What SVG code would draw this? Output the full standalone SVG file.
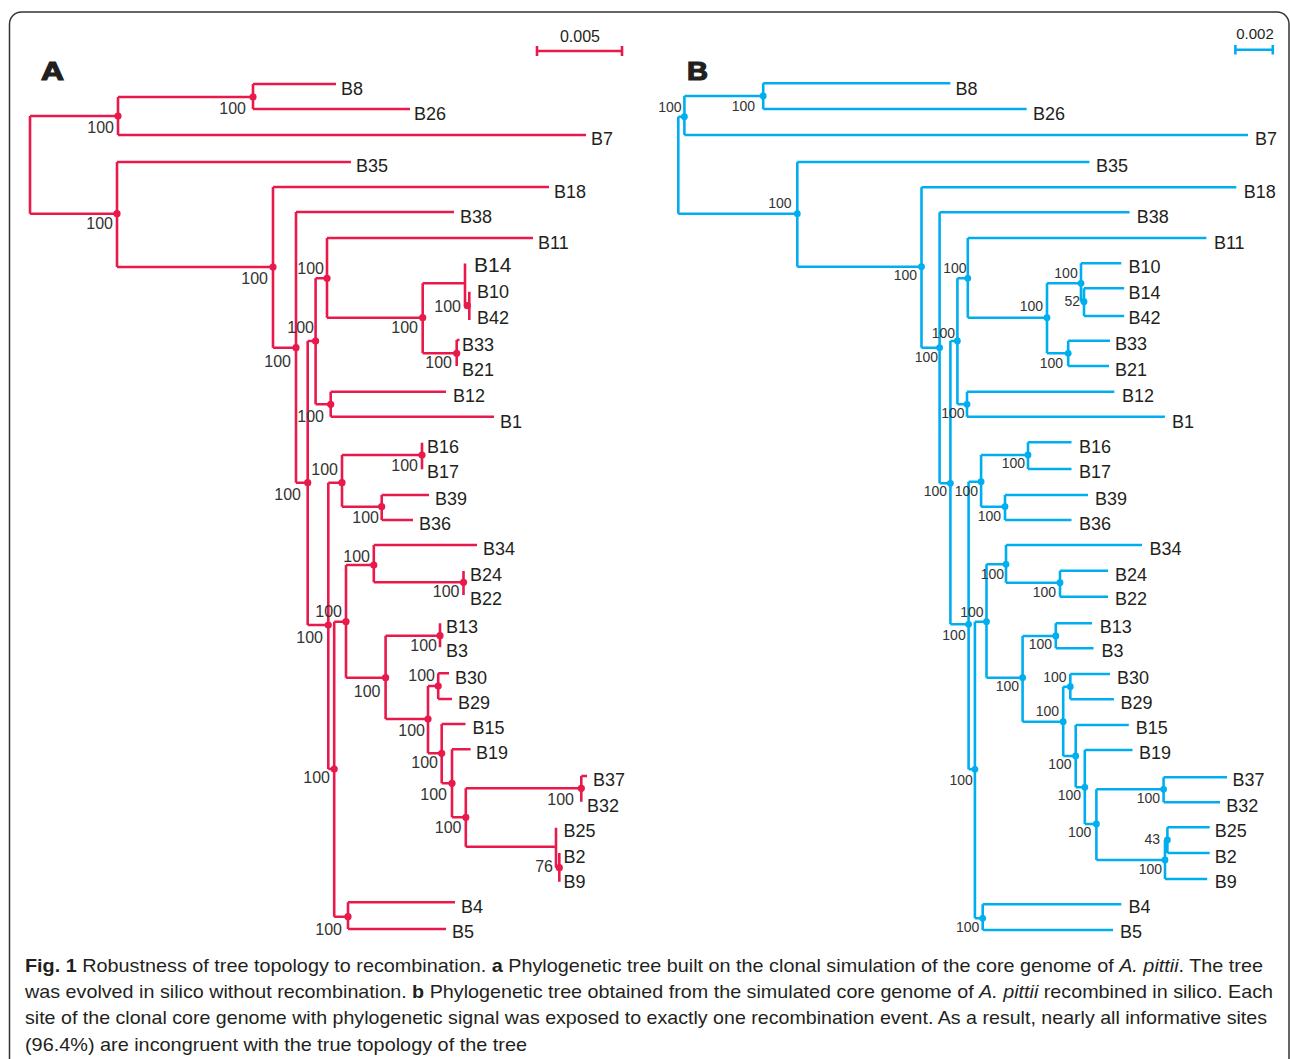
<svg xmlns="http://www.w3.org/2000/svg" width="1290" height="1059" viewBox="0 0 1290 1059">
<style>
text{font-family:"Liberation Sans",Arial,sans-serif;fill:#231f20}
.ca{fill:none;stroke:#e8194b;stroke-width:2.6;stroke-linecap:butt}
.cb{fill:none;stroke:#00aeef;stroke-width:2.6;stroke-linecap:butt}
.da{fill:#e8194b}
.db{fill:#00aeef}
.t{font-size:18px}
.sa{font-size:16px;fill:#333;text-anchor:end}
.sb{font-size:14px;fill:#333;text-anchor:end}
.pl{font-size:25px;font-weight:bold;stroke:#231f20;stroke-width:1.2}
.cap{font-size:19px}
</style>
<rect width="1290" height="1059" fill="#fff"/>
<path d="M9.5 1060 V24 A12 12 0 0 1 21.5 12 H1277 A12 12 0 0 1 1289 24 V1060" fill="none" stroke="#333" stroke-width="1.5"/>

<text class="pl" x="41" y="80" textLength="23" lengthAdjust="spacingAndGlyphs">A</text>
<text class="pl" x="687" y="80" textLength="21" lengthAdjust="spacingAndGlyphs">B</text>

<g id="scale-a">
<path class="ca" stroke-width="2" d="M537 46 V56 M537 51 H622 M622 46 V56"/>
<text x="580" y="42" font-size="16" text-anchor="middle">0.005</text>
</g>
<g id="scale-b">
<path class="cb" stroke-width="2" d="M1235.4 45 V54.5 M1235.4 49.7 H1272.8 M1272.8 45 V54.5"/>
<text x="1255" y="38.5" font-size="15" text-anchor="middle">0.002</text>
</g>

<g id="connectors-a" class="ca">
<path d="M30 116 V213.7 M30 116 H118 M118 97 V135 M118 97 H253 M253 84 V109 M253 84 H336 M253 109 H410 M118 135 H586"/>
<path d="M30 213.7 H117 M117 162 V267 M117 162 H351 M117 267 H273 M273 187 V347.7 M273 187 H549 M273 347.7 H296 M296 212 V482.7 M296 212 H454"/>
<path d="M296 482.7 H307.7 M307.7 341 V625 M307.7 341 H315.6 M315.6 278.3 V404.3 M315.6 278.3 H327 M327 238 V317.7 M327 238 H533"/>
<path d="M327 317.7 H422.7 M422.7 283.3 V353.3 M422.7 283.3 H465 M465 263.5 V305.7 M465 305.7 H469.3 M469.3 291.7 V320 M422.7 353.3 H456.7 M456.7 340 V366 M456.7 340 H459.5"/>
<path d="M315.6 404.3 H330.7 M330.7 391.7 V416.7 M330.7 391.7 H446 M330.7 416.7 H494"/>
<path d="M307.7 625 H328.3 M328.3 482.7 V769 M328.3 482.7 H342 M342 455 V506.7 M342 455 H422 M422 442.7 V469.3 M342 506.7 H381.7 M381.7 495 V520 M381.7 495 H429 M381.7 520 H413"/>
<path d="M328.3 769 H334.2 M334.2 621.7 V916.7 M334.2 621.7 H346 M346 565 V677.7 M346 565 H373.8 M373.8 545 V582.3 M373.8 545 H477 M373.8 582.3 H463.5 M463.5 571 V595"/>
<path d="M346 677.7 H385.6 M385.6 635.7 V719 M385.6 635.7 H440 M440 623.3 V647.3 M385.6 719 H428 M428 686 V753.3 M428 686 H438.2 M438.2 673.3 V699 M438.2 673.3 H449 M438.2 699 H452"/>
<path d="M428 753.3 H441.7 M441.7 724 V783.3 M441.7 724 H465.5 M441.7 783.3 H452 M452 749.3 V817.3 M452 749.3 H470.6 M452 817.3 H465.8 M465.8 788.3 V846.7"/>
<path d="M465.8 788.3 H581.3 M581.3 776 V801.7 M581.3 776 H587 M465.8 846.7 H556 M556 827.7 V867.7 M556 867.7 H559.3 M559.3 853 V881.7"/>
<path d="M334.2 916.7 H348 M348 902.3 V929 M348 902.3 H455 M348 929 H446"/>
</g>

<g id="tree-a-nodes">
<g id="a-n-b8b26"><circle class="da" cx="253" cy="97" r="3.6"/><text class="sa" x="246" y="114">100</text></g>
<g id="a-n-top"><circle class="da" cx="118" cy="116" r="3.6"/><text class="sa" x="114" y="133">100</text></g>
<g id="a-n-35"><circle class="da" cx="117" cy="213.7" r="3.6"/><text class="sa" x="113" y="229">100</text></g>
<g id="a-n-18"><circle class="da" cx="273" cy="267" r="3.6"/><text class="sa" x="268" y="284">100</text></g>
<g id="a-n-38"><circle class="da" cx="296" cy="347.7" r="3.6"/><text class="sa" x="291" y="367">100</text></g>
<g id="a-n-a"><circle class="da" cx="307.7" cy="482.7" r="3.6"/><text class="sa" x="301" y="500">100</text></g>
<g id="a-n-b"><circle class="da" cx="315.6" cy="341" r="3.6"/><text class="sa" x="314" y="333">100</text></g>
<g id="a-n-11"><circle class="da" cx="327" cy="278.3" r="3.6"/><text class="sa" x="324" y="274">100</text></g>
<g id="a-n-c"><circle class="da" cx="422.7" cy="317.7" r="3.6"/><text class="sa" x="418" y="333">100</text></g>
<g id="a-n-10-42"><circle class="da" cx="467.3" cy="305.7" r="3.6"/><text class="sa" x="461" y="312">100</text></g>
<g id="a-n-33-21"><circle class="da" cx="456.7" cy="353.3" r="3.6"/><text class="sa" x="452" y="368">100</text></g>
<g id="a-n-12-1"><circle class="da" cx="330.7" cy="404.3" r="3.6"/><text class="sa" x="324" y="422">100</text></g>
<g id="a-n-d"><circle class="da" cx="328.3" cy="625" r="3.6"/><text class="sa" x="323" y="643">100</text></g>
<g id="a-n-e"><circle class="da" cx="342" cy="482.7" r="3.6"/><text class="sa" x="338" y="475">100</text></g>
<g id="a-n-16-17"><circle class="da" cx="422" cy="455" r="3.6"/><text class="sa" x="418" y="470.7">100</text></g>
<g id="a-n-39-36"><circle class="da" cx="381.7" cy="506.7" r="3.6"/><text class="sa" x="379" y="522.7">100</text></g>
<g id="a-n-f"><circle class="da" cx="334.2" cy="769" r="3.6"/><text class="sa" x="330" y="783">100</text></g>
<g id="a-n-g"><circle class="da" cx="346" cy="621.7" r="3.6"/><text class="sa" x="342" y="617">100</text></g>
<g id="a-n-h"><circle class="da" cx="373.8" cy="565" r="3.6"/><text class="sa" x="370" y="561.7">100</text></g>
<g id="a-n-24-22"><circle class="da" cx="463.5" cy="582.3" r="3.6"/><text class="sa" x="459.5" y="597.3">100</text></g>
<g id="a-n-i"><circle class="da" cx="385.6" cy="677.7" r="3.6"/><text class="sa" x="380.5" y="696.7">100</text></g>
<g id="a-n-13-3"><circle class="da" cx="440" cy="635.7" r="3.6"/><text class="sa" x="437" y="650.7">100</text></g>
<g id="a-n-j"><circle class="da" cx="428" cy="719" r="3.6"/><text class="sa" x="425" y="736">100</text></g>
<g id="a-n-30-29"><circle class="da" cx="438.2" cy="686" r="3.6"/><text class="sa" x="435" y="680.7">100</text></g>
<g id="a-n-k"><circle class="da" cx="441.7" cy="753.3" r="3.6"/><text class="sa" x="438" y="768.3">100</text></g>
<g id="a-n-l"><circle class="da" cx="452" cy="783.3" r="3.6"/><text class="sa" x="447" y="800">100</text></g>
<g id="a-n-m"><circle class="da" cx="465.8" cy="817.3" r="3.6"/><text class="sa" x="461.5" y="833.3">100</text></g>
<g id="a-n-37-32"><circle class="da" cx="581.3" cy="788.3" r="3.6"/><text class="sa" x="574" y="805">100</text></g>
<g id="a-n-2-9"><circle class="da" cx="559.3" cy="867.7" r="3.6"/><text class="sa" x="553" y="872">76</text></g>
<g id="a-n-4-5"><circle class="da" cx="348" cy="916.7" r="3.6"/><text class="sa" x="342" y="935">100</text></g>
</g>

<g id="tree-a-tips" transform="translate(0,1.2)">
<g id="a-B8"><text class="t" x="341" y="94">B8</text></g>
<g id="a-B26"><text class="t" x="414" y="119">B26</text></g>
<g id="a-B7"><text class="t" x="591" y="144">B7</text></g>
<g id="a-B35"><text class="t" x="356" y="171">B35</text></g>
<g id="a-B18"><text class="t" x="554" y="197">B18</text></g>
<g id="a-B38"><text class="t" x="460" y="222">B38</text></g>
<g id="a-B11"><text class="t" x="538" y="248">B11</text></g>
<g id="a-B14"><text x="474" y="271" font-size="21">B14</text></g>
<g id="a-B10"><text class="t" x="477" y="297">B10</text></g>
<g id="a-B42"><text class="t" x="477" y="322.5">B42</text></g>
<g id="a-B33"><text class="t" x="462" y="350">B33</text></g>
<g id="a-B21"><text class="t" x="462" y="375">B21</text></g>
<g id="a-B12"><text class="t" x="453" y="401">B12</text></g>
<g id="a-B1"><text class="t" x="500" y="427">B1</text></g>
<g id="a-B16"><text class="t" x="427" y="451.7">B16</text></g>
<g id="a-B17"><text class="t" x="427" y="477">B17</text></g>
<g id="a-B39"><text class="t" x="435" y="504">B39</text></g>
<g id="a-B36"><text class="t" x="419" y="529.3">B36</text></g>
<g id="a-B34"><text class="t" x="483" y="554">B34</text></g>
<g id="a-B24"><text class="t" x="470" y="580">B24</text></g>
<g id="a-B22"><text class="t" x="470" y="604">B22</text></g>
<g id="a-B13"><text class="t" x="446" y="632">B13</text></g>
<g id="a-B3"><text class="t" x="446" y="656">B3</text></g>
<g id="a-B30"><text class="t" x="455" y="683">B30</text></g>
<g id="a-B29"><text class="t" x="458" y="708">B29</text></g>
<g id="a-B15"><text class="t" x="472.6" y="733">B15</text></g>
<g id="a-B19"><text class="t" x="476" y="758.3">B19</text></g>
<g id="a-B37"><text class="t" x="593" y="785">B37</text></g>
<g id="a-B32"><text class="t" x="587" y="810.7">B32</text></g>
<g id="a-B25"><text class="t" x="563.5" y="836">B25</text></g>
<g id="a-B2"><text class="t" x="563.5" y="861.7">B2</text></g>
<g id="a-B9"><text class="t" x="563.5" y="886.7">B9</text></g>
<g id="a-B4"><text class="t" x="461" y="911.7">B4</text></g>
<g id="a-B5"><text class="t" x="452" y="937.3">B5</text></g>
</g>

<g id="connectors-b" class="cb">
<path d="M678.3 116.7 V213.7 M678.3 116.7 H684.4 M684.4 96 V135 M684.4 96 H763.2 M763.2 83.3 V109 M763.2 83.3 H950.4 M763.2 109 H1026.7 M684.4 135 H1248"/>
<path d="M678.3 213.7 H797.3 M797.3 162 V266.7 M797.3 162 H1089.4 M797.3 266.7 H921.5 M921.5 187.3 V347.7 M921.5 187.3 H1236.3 M921.5 347.7 H939.6 M939.6 212.3 V483.3 M939.6 212.3 H1129.6"/>
<path d="M939.6 483.3 H950.4 M950.4 341 V624.3 M950.4 341 H957.4 M957.4 278.3 V404.3 M957.4 278.3 H967.8 M967.8 238 V317.7 M967.8 238 H1206.4"/>
<path d="M967.8 317.7 H1047 M1047 283.3 V353.3 M1047 283.3 H1081 M1081 263.3 V301.7 M1081 263.3 H1121.3 M1081 301.7 H1084 M1084 288.3 V316 M1084 288.3 H1124.2 M1084 316 H1124.2 M1047 353.3 H1068.2 M1068.2 340.7 V366 M1068.2 340.7 H1110 M1068.2 366 H1109"/>
<path d="M957.4 404.3 H967 M967 391.7 V416.7 M967 391.7 H1114.3 M967 416.7 H1164.9"/>
<path d="M950.4 624.3 H968.6 M968.6 481.7 V769.3 M968.6 481.7 H981.1 M981.1 455 V506.7 M981.1 455 H1028 M1028 442.3 V469 M1028 442.3 H1071.5 M1028 469 H1071.5 M981.1 506.7 H1005 M1005 495 V520 M1005 495 H1088 M1005 520 H1071.5"/>
<path d="M968.6 769.3 H974.9 M974.9 621.7 V918.3 M974.9 621.7 H986.5 M986.5 564.3 V677.7 M986.5 564.3 H1006 M1006 545 V582.7 M1006 545 H1142 M1006 582.7 H1060 M1060 570.7 V596.7 M1060 570.7 H1108 M1060 596.7 H1108"/>
<path d="M986.5 677.7 H1022.6 M1022.6 636 V721.7 M1022.6 636 H1055.8 M1055.8 623.3 V648.3 M1055.8 623.3 H1092 M1055.8 648.3 H1093.5 M1022.6 721.7 H1063.2 M1063.2 686.7 V756 M1063.2 686.7 H1070.3 M1070.3 674 V699.3 M1070.3 674 H1110 M1070.3 699.3 H1113.9"/>
<path d="M1063.2 756 H1075.7 M1075.7 725 V787.3 M1075.7 725 H1128.8 M1075.7 787.3 H1084.8 M1084.8 750 V824 M1084.8 750 H1132.5 M1084.8 824 H1096.4 M1096.4 789.3 V860"/>
<path d="M1096.4 789.3 H1163.6 M1163.6 777.3 V802.3 M1163.6 777.3 H1227 M1163.6 802.3 H1220 M1096.4 860 H1165 M1165 840 V879 M1165 879 H1207.2 M1165 840 H1167.4 M1167.4 827.3 V853 M1167.4 827.3 H1209.7 M1167.4 853 H1209.7"/>
<path d="M974.9 918.3 H982.7 M982.7 904.3 V930 M982.7 904.3 H1121.3 M982.7 930 H1113"/>
</g>

<g id="tree-b-nodes">
<g id="b-n-8-26"><circle class="db" cx="763.2" cy="96" r="3.4"/><text class="sb" x="755" y="110.7">100</text></g>
<g id="b-n-top"><circle class="db" cx="684.4" cy="116.7" r="3.4"/><text class="sb" x="681.5" y="112.3">100</text></g>
<g id="b-n-35"><circle class="db" cx="797.3" cy="213.7" r="3.4"/><text class="sb" x="791.5" y="208.3">100</text></g>
<g id="b-n-18"><circle class="db" cx="921.5" cy="266.7" r="3.4"/><text class="sb" x="917" y="280">100</text></g>
<g id="b-n-38"><circle class="db" cx="939.6" cy="347.7" r="3.4"/><text class="sb" x="938" y="361.7">100</text></g>
<g id="b-n-a"><circle class="db" cx="950.4" cy="483.3" r="3.4"/><text class="sb" x="947" y="496">100</text></g>
<g id="b-n-b"><circle class="db" cx="957.4" cy="341" r="3.4"/><text class="sb" x="955" y="338.3">100</text></g>
<g id="b-n-11"><circle class="db" cx="967.8" cy="278.3" r="3.4"/><text class="sb" x="966.6" y="273.3">100</text></g>
<g id="b-n-c"><circle class="db" cx="1047" cy="317.7" r="3.4"/><text class="sb" x="1043" y="311">100</text></g>
<g id="b-n-10"><circle class="db" cx="1081" cy="283.3" r="3.4"/><text class="sb" x="1077.7" y="277.7">100</text></g>
<g id="b-n-14-42"><circle class="db" cx="1084" cy="301.7" r="3.4"/><text class="sb" x="1080" y="306">52</text></g>
<g id="b-n-33-21"><circle class="db" cx="1068.2" cy="353.3" r="3.4"/><text class="sb" x="1063" y="367.7">100</text></g>
<g id="b-n-12-1"><circle class="db" cx="967" cy="404.3" r="3.4"/><text class="sb" x="964.5" y="417.7">100</text></g>
<g id="b-n-d"><circle class="db" cx="968.6" cy="624.3" r="3.4"/><text class="sb" x="965.7" y="640">100</text></g>
<g id="b-n-e"><circle class="db" cx="981.1" cy="481.7" r="3.4"/><text class="sb" x="978" y="496">100</text></g>
<g id="b-n-16-17"><circle class="db" cx="1028" cy="455" r="3.4"/><text class="sb" x="1025" y="468.3">100</text></g>
<g id="b-n-39-36"><circle class="db" cx="1005" cy="506.7" r="3.4"/><text class="sb" x="1001" y="521">100</text></g>
<g id="b-n-f"><circle class="db" cx="974.9" cy="769.3" r="3.4"/><text class="sb" x="972.8" y="785">100</text></g>
<g id="b-n-g"><circle class="db" cx="986.5" cy="621.7" r="3.4"/><text class="sb" x="983.6" y="616.7">100</text></g>
<g id="b-n-h"><circle class="db" cx="1006" cy="564.3" r="3.4"/><text class="sb" x="1004" y="579.3">100</text></g>
<g id="b-n-24-22"><circle class="db" cx="1060" cy="582.7" r="3.4"/><text class="sb" x="1056" y="596.7">100</text></g>
<g id="b-n-i"><circle class="db" cx="1022.6" cy="677.7" r="3.4"/><text class="sb" x="1019" y="691">100</text></g>
<g id="b-n-13-3"><circle class="db" cx="1055.8" cy="636" r="3.4"/><text class="sb" x="1052" y="649.3">100</text></g>
<g id="b-n-j"><circle class="db" cx="1063.2" cy="721.7" r="3.4"/><text class="sb" x="1059" y="716">100</text></g>
<g id="b-n-30-29"><circle class="db" cx="1070.3" cy="686.7" r="3.4"/><text class="sb" x="1066.6" y="681.7">100</text></g>
<g id="b-n-k"><circle class="db" cx="1075.7" cy="756" r="3.4"/><text class="sb" x="1071.5" y="769.3">100</text></g>
<g id="b-n-l"><circle class="db" cx="1084.8" cy="787.3" r="3.4"/><text class="sb" x="1081" y="800">100</text></g>
<g id="b-n-m"><circle class="db" cx="1096.4" cy="824" r="3.4"/><text class="sb" x="1091.4" y="836.7">100</text></g>
<g id="b-n-37-32"><circle class="db" cx="1163.6" cy="789.3" r="3.4"/><text class="sb" x="1160" y="802.7">100</text></g>
<g id="b-n-25-9"><circle class="db" cx="1165" cy="860" r="3.4"/><text class="sb" x="1162" y="874">100</text></g>
<g id="b-n-25-2"><circle class="db" cx="1167.4" cy="840" r="3.4"/><text class="sb" x="1160" y="844">43</text></g>
<g id="b-n-4-5"><circle class="db" cx="982.7" cy="918.3" r="3.4"/><text class="sb" x="979.4" y="931.7">100</text></g>
</g>

<g id="tree-b-tips" transform="translate(0,1.2)">
<g id="b-B8"><text class="t" x="955.4" y="94">B8</text></g>
<g id="b-B26"><text class="t" x="1033" y="119">B26</text></g>
<g id="b-B7"><text class="t" x="1255" y="144">B7</text></g>
<g id="b-B35"><text class="t" x="1096" y="171">B35</text></g>
<g id="b-B18"><text class="t" x="1243.7" y="197">B18</text></g>
<g id="b-B38"><text class="t" x="1136.7" y="222">B38</text></g>
<g id="b-B11"><text class="t" x="1213.9" y="248">B11</text></g>
<g id="b-B10"><text class="t" x="1128.4" y="272.3">B10</text></g>
<g id="b-B14"><text class="t" x="1128.4" y="298.3">B14</text></g>
<g id="b-B42"><text class="t" x="1128.4" y="323.3">B42</text></g>
<g id="b-B33"><text class="t" x="1115" y="349.3">B33</text></g>
<g id="b-B21"><text class="t" x="1115" y="375">B21</text></g>
<g id="b-B12"><text class="t" x="1122" y="401">B12</text></g>
<g id="b-B1"><text class="t" x="1172" y="427">B1</text></g>
<g id="b-B16"><text class="t" x="1079" y="451.7">B16</text></g>
<g id="b-B17"><text class="t" x="1079" y="477">B17</text></g>
<g id="b-B39"><text class="t" x="1095" y="504">B39</text></g>
<g id="b-B36"><text class="t" x="1079" y="529.3">B36</text></g>
<g id="b-B34"><text class="t" x="1149.5" y="554">B34</text></g>
<g id="b-B24"><text class="t" x="1115" y="580">B24</text></g>
<g id="b-B22"><text class="t" x="1115" y="604">B22</text></g>
<g id="b-B13"><text class="t" x="1099.7" y="631.7">B13</text></g>
<g id="b-B3"><text class="t" x="1101.4" y="656">B3</text></g>
<g id="b-B30"><text class="t" x="1117" y="683.3">B30</text></g>
<g id="b-B29"><text class="t" x="1120.5" y="708.3">B29</text></g>
<g id="b-B15"><text class="t" x="1135.8" y="733.3">B15</text></g>
<g id="b-B19"><text class="t" x="1139" y="758.3">B19</text></g>
<g id="b-B37"><text class="t" x="1232.5" y="785">B37</text></g>
<g id="b-B32"><text class="t" x="1226.3" y="810.7">B32</text></g>
<g id="b-B25"><text class="t" x="1214.7" y="836">B25</text></g>
<g id="b-B2"><text class="t" x="1214.7" y="861.7">B2</text></g>
<g id="b-B9"><text class="t" x="1214.7" y="886.7">B9</text></g>
<g id="b-B4"><text class="t" x="1128.4" y="911.7">B4</text></g>
<g id="b-B5"><text class="t" x="1120" y="937.3">B5</text></g>
</g>

<g id="caption">
<text class="cap" x="25" y="972" textLength="1238" lengthAdjust="spacingAndGlyphs"><tspan font-weight="bold">Fig. 1</tspan> Robustness of tree topology to recombination. <tspan font-weight="bold">a</tspan> Phylogenetic tree built on the clonal simulation of the core genome of <tspan font-style="italic">A. pittii</tspan>. The tree</text>
<text class="cap" x="25" y="998" textLength="1248" lengthAdjust="spacingAndGlyphs">was evolved in silico without recombination. <tspan font-weight="bold">b</tspan> Phylogenetic tree obtained from the simulated core genome of <tspan font-style="italic">A. pittii</tspan> recombined in silico. Each</text>
<text class="cap" x="25" y="1024" textLength="1242" lengthAdjust="spacingAndGlyphs">site of the clonal core genome with phylogenetic signal was exposed to exactly one recombination event. As a result, nearly all informative sites</text>
<text class="cap" x="25" y="1051" textLength="502" lengthAdjust="spacingAndGlyphs">(96.4%) are incongruent with the true topology of the tree</text>
</g>
</svg>
